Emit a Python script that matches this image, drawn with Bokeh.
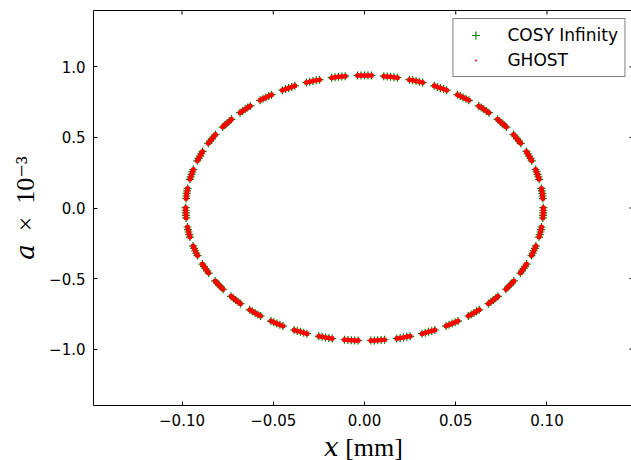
from bokeh.plotting import figure
from bokeh.models import (Range1d, FixedTicker, Legend, LegendItem, ColumnDataSource)
from bokeh.embed import file_html
from bokeh.resources import INLINE

# ---------------- data ----------------
x_ticks = [-0.10, -0.05, 0.0, 0.05, 0.10]
x_tick_labels = ["\u22120.10", "\u22120.05", "0.00", "0.05", "0.10"]
a_ticks = [-1.0, -0.5, 0.0, 0.5, 1.0]
a_tick_labels = ["\u22121.0", "\u22120.5", "0.0", "0.5", "1.0"]

x_limits = (-0.1485, 0.1474)
a_limits = (-1.4, 1.4)

series_names = ["COSY Infinity", "GHOST"]
x_title = "\U0001D465 [mm]"
a_title = "\U0001D44E\u2002\u00d7\u200210\u207b\u00b3"

# COSY Infinity tracking points, right half of the ellipse (x in mm, a in 1e-3)
cosy_x_right = [
    -0.0038, -0.0019, 0.0, 0.0019, 0.0038,
    0.01055, 0.01241, 0.01427, 0.01613, 0.01799,
    0.02463, 0.02643, 0.02823, 0.03003, 0.03183,
    0.03819, 0.03989, 0.04159, 0.04329, 0.04499,
    0.05092, 0.05249, 0.05406, 0.05563, 0.05720,
    0.06258, 0.06398, 0.06538, 0.06678, 0.06818,
    0.07290, 0.07411, 0.07531, 0.07651, 0.07772,
    0.08168, 0.08266, 0.08364, 0.08462, 0.08560,
    0.08871, 0.08944, 0.09018, 0.09092, 0.09165,
    0.09379, 0.09431, 0.09481, 0.09527, 0.09569,
    0.09693, 0.09719, 0.09741, 0.09760, 0.09775,
    0.09800, 0.09799, 0.09794, 0.09785, 0.09773,
    0.09699, 0.09670, 0.09638, 0.09602, 0.09563,
    0.09391, 0.09336, 0.09277, 0.09215, 0.09149,
    0.08883, 0.08802, 0.08718, 0.08631, 0.08540,
    0.08186, 0.08081, 0.07973, 0.07862, 0.07749,
    0.07315, 0.07188, 0.07059, 0.06927, 0.06793,
    0.06287, 0.06142, 0.05994, 0.05844, 0.05692,
    0.05126, 0.04965, 0.04802, 0.04637, 0.04471,
    0.03855, 0.03682, 0.03507, 0.03331, 0.03153,
    0.02503, 0.02321, 0.02138, 0.01954, 0.01769,
    0.01098, 0.00911, 0.00723, 0.00536, 0.00348,
]
cosy_a_right = [
    0.9393, 0.9398, 0.9400, 0.9398, 0.9393,
    0.9345, 0.9323, 0.9299, 0.9271, 0.9239,
    0.9099, 0.9052, 0.9002, 0.8948, 0.8891,
    0.8659, 0.8586, 0.8512, 0.8433, 0.8352,
    0.8034, 0.7939, 0.7840, 0.7740, 0.7635,
    0.7238, 0.7121, 0.7002, 0.6881, 0.6756,
    0.6288, 0.6152, 0.6015, 0.5875, 0.5733,
    0.5203, 0.5052, 0.4899, 0.4744, 0.4587,
    0.4008, 0.3844, 0.3679, 0.3512, 0.3344,
    0.2730, 0.2555, 0.2381, 0.2206, 0.2032,
    0.1390, 0.1211, 0.1032, 0.0852, 0.0673,
    0.0021, -0.0159, -0.0340, -0.0520, -0.0700,
    -0.1348, -0.1526, -0.1703, -0.1881, -0.2058,
    -0.2689, -0.2860, -0.3031, -0.3202, -0.3373,
    -0.3973, -0.4133, -0.4294, -0.4454, -0.4615,
    -0.5172, -0.5318, -0.5465, -0.5612, -0.5759,
    -0.6260, -0.6390, -0.6520, -0.6650, -0.6780,
    -0.7216, -0.7326, -0.7437, -0.7547, -0.7657,
    -0.8017, -0.8106, -0.8194, -0.8283, -0.8371,
    -0.8648, -0.8713, -0.8777, -0.8842, -0.8907,
    -0.9095, -0.9134, -0.9174, -0.9213, -0.9252,
    -0.9341, -0.9360, -0.9374, -0.9386, -0.9394,
]
# left half of the ellipse
cosy_x_left = [
    -0.01055, -0.01241, -0.01427, -0.01613, -0.01799,
    -0.02463, -0.02643, -0.02823, -0.03003, -0.03183,
    -0.03819, -0.03989, -0.04159, -0.04329, -0.04499,
    -0.05092, -0.05249, -0.05406, -0.05563, -0.05720,
    -0.06258, -0.06398, -0.06538, -0.06678, -0.06818,
    -0.07290, -0.07411, -0.07531, -0.07651, -0.07772,
    -0.08168, -0.08266, -0.08364, -0.08462, -0.08560,
    -0.08871, -0.08944, -0.09018, -0.09092, -0.09165,
    -0.09379, -0.09431, -0.09481, -0.09527, -0.09569,
    -0.09693, -0.09719, -0.09741, -0.09760, -0.09775,
    -0.09800, -0.09799, -0.09794, -0.09785, -0.09773,
    -0.09699, -0.09670, -0.09638, -0.09602, -0.09563,
    -0.09391, -0.09336, -0.09277, -0.09215, -0.09149,
    -0.08883, -0.08802, -0.08718, -0.08631, -0.08540,
    -0.08186, -0.08081, -0.07973, -0.07862, -0.07749,
    -0.07315, -0.07188, -0.07059, -0.06927, -0.06793,
    -0.06287, -0.06142, -0.05994, -0.05844, -0.05692,
    -0.05126, -0.04965, -0.04802, -0.04637, -0.04471,
    -0.03855, -0.03682, -0.03507, -0.03331, -0.03153,
    -0.02503, -0.02321, -0.02138, -0.01954, -0.01769,
    -0.01098, -0.00911, -0.00723, -0.00536, -0.00348,
]
cosy_a_left = [
    0.9345, 0.9323, 0.9299, 0.9271, 0.9239,
    0.9099, 0.9052, 0.9002, 0.8948, 0.8891,
    0.8659, 0.8586, 0.8512, 0.8433, 0.8352,
    0.8034, 0.7939, 0.7840, 0.7740, 0.7635,
    0.7238, 0.7121, 0.7002, 0.6881, 0.6756,
    0.6288, 0.6152, 0.6015, 0.5875, 0.5733,
    0.5203, 0.5052, 0.4899, 0.4744, 0.4587,
    0.4008, 0.3844, 0.3679, 0.3512, 0.3344,
    0.2730, 0.2555, 0.2381, 0.2206, 0.2032,
    0.1390, 0.1211, 0.1032, 0.0852, 0.0673,
    0.0021, -0.0159, -0.0340, -0.0520, -0.0700,
    -0.1348, -0.1526, -0.1703, -0.1881, -0.2058,
    -0.2689, -0.2860, -0.3031, -0.3202, -0.3373,
    -0.3973, -0.4133, -0.4294, -0.4454, -0.4615,
    -0.5172, -0.5318, -0.5465, -0.5612, -0.5759,
    -0.6260, -0.6390, -0.6520, -0.6650, -0.6780,
    -0.7216, -0.7326, -0.7437, -0.7547, -0.7657,
    -0.8017, -0.8106, -0.8194, -0.8283, -0.8371,
    -0.8648, -0.8713, -0.8777, -0.8842, -0.8907,
    -0.9095, -0.9134, -0.9174, -0.9213, -0.9252,
    -0.9341, -0.9360, -0.9374, -0.9386, -0.9394,
]

cosy_x = cosy_x_right + cosy_x_left
cosy_a = cosy_a_right + cosy_a_left
# GHOST points coincide with the COSY Infinity points in the picture
ghost_x = list(cosy_x)
ghost_a = list(cosy_a)

# ---------------- figure ----------------
FRAME_W, FRAME_H = 540, 395
p = figure(
    frame_width=FRAME_W, frame_height=FRAME_H,
    x_range=Range1d(*x_limits), y_range=Range1d(*a_limits),
    output_backend="svg", toolbar_location=None,
    min_border_left=93, min_border_right=0, min_border_top=10, min_border_bottom=50,
    background_fill_color="white", border_fill_color="white",
)
p.title.visible = False
p.outline_line_color = "black"
p.outline_line_width = 1
p.xgrid.visible = False
p.ygrid.visible = False

TICK_FONT = "DejaVu Sans"
SERIF = "Liberation Serif, DejaVu Serif"
TICK_LEN = 4  # px, inward

for ax, ticks, labels in ((p.xaxis[0], x_ticks, x_tick_labels),
                          (p.yaxis[0], a_ticks, a_tick_labels)):
    ax.ticker = FixedTicker(ticks=ticks)
    ax.major_label_overrides = dict(zip(ticks, labels))
    ax.major_tick_in = TICK_LEN
    ax.major_tick_out = 0
    ax.minor_tick_line_color = None
    ax.major_tick_line_color = "black"
    ax.axis_line_color = None
    ax.major_label_text_font = TICK_FONT
    ax.major_label_text_font_size = "15px"
    ax.major_label_text_color = "black"
    ax.major_label_standoff = 8
    ax.axis_label_text_font = SERIF
    ax.axis_label_text_font_size = "26px"
    ax.axis_label_text_font_style = "normal"
    ax.axis_label_text_color = "black"

p.xaxis[0].axis_label = x_title
p.xaxis[0].axis_label_standoff = 4
p.yaxis[0].axis_label = a_title
p.yaxis[0].axis_label_standoff = 6

# inward ticks on the top and right edges (matplotlib classic style)
dy_tick = TICK_LEN * (a_limits[1] - a_limits[0]) / FRAME_H
dx_tick = TICK_LEN * (x_limits[1] - x_limits[0]) / FRAME_W
p.segment(x0=x_ticks, y0=[a_limits[1]] * len(x_ticks),
          x1=x_ticks, y1=[a_limits[1] - dy_tick] * len(x_ticks),
          line_color="black", line_width=1)
p.segment(x0=[x_limits[1]] * len(a_ticks), y0=a_ticks,
          x1=[x_limits[1] - dx_tick] * len(a_ticks), y1=a_ticks,
          line_color="black", line_width=1)

# ---------------- data marks ----------------
src_cosy = ColumnDataSource(dict(x=cosy_x, a=cosy_a))
src_ghost = ColumnDataSource(dict(x=ghost_x, a=ghost_a))

r_cosy = p.scatter(x="x", y="a", source=src_cosy, marker="cross", size=8,
                   line_color="#008000", line_width=1.2)
r_ghost = p.scatter(x="x", y="a", source=src_ghost, marker="dot", size=20,
                    fill_color="#ff0000", line_color="#ff0000")

legend = Legend(
    items=[LegendItem(label=series_names[0], renderers=[r_cosy]),
           LegendItem(label=series_names[1], renderers=[r_ghost])],
    location="top_right", margin=8, padding=6, spacing=5,
    glyph_width=32, glyph_height=20, label_height=20, label_standoff=16,
    label_text_font=TICK_FONT, label_text_font_size="17px", label_text_color="black",
    border_line_color="black", border_line_width=1,
    background_fill_color="white", background_fill_alpha=1.0,
)
p.add_layout(legend)

open("out.html", "w").write(file_html(p, INLINE))
